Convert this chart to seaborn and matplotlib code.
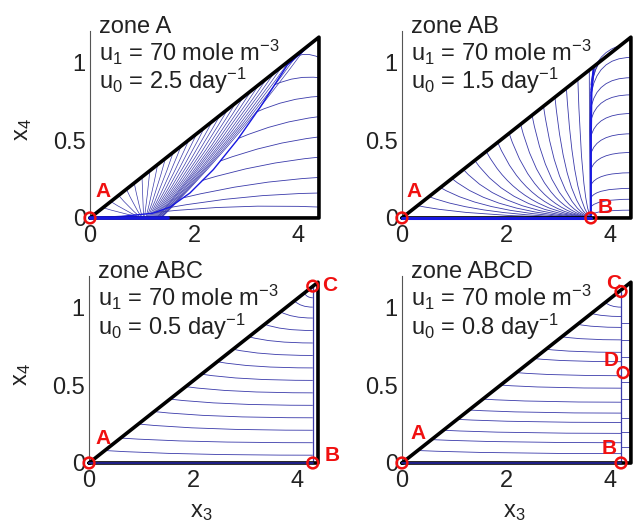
import matplotlib
matplotlib.use('Agg')
import matplotlib.pyplot as plt
from matplotlib.path import Path
from matplotlib.patches import PathPatch
import seaborn as sns

sns.set_style('white')
plt.rcParams['font.family'] = ['Liberation Sans', 'DejaVu Sans']
plt.rcParams['mathtext.fontset'] = 'custom'
plt.rcParams['mathtext.rm'] = 'Liberation Sans'
plt.rcParams['mathtext.it'] = 'Liberation Sans'
plt.rcParams['mathtext.default'] = 'regular'

# ---------------- data ----------------
zone_names = ['zone A', 'zone AB', 'zone ABC', 'zone ABCD']
u1_values = ['70', '70', '70', '70']
u0_values = ['2.5', '1.5', '0.5', '0.8']

x_ticks = [0, 2, 4]
x_tick_labels = ['0', '2', '4']
y_ticks = [0, 0.5, 1]
y_tick_labels = ['0', '0.5', '1']

# feasible-region boundary (x3, x4)
boundary_x = [0.0, 4.4, 4.4, 0.0]
boundary_y = [0.0, 1.16, 0.0, 0.0]

# equilibria per panel
eq_names = [['A'], ['A', 'B'], ['A', 'B', 'C'], ['A', 'B', 'C', 'D']]
eq_x = [[0.0], [0.0, 3.63], [0.0, 4.3, 4.3], [0.0, 4.21, 4.21, 4.25]]
eq_y = [[0.0], [0.0, 0.0], [0.0, 0.0, 1.135], [0.0, 0.0, 1.1, 0.58]]

# zone A trajectories
A_fan_start_x = [0.25, 0.4, 0.55, 0.7, 0.85, 1.0, 1.15, 1.3, 1.45, 1.6,
                 1.75, 1.9, 2.05, 2.2, 2.35, 2.5, 2.65, 2.8, 2.95, 3.1,
                 3.25, 3.4, 3.55, 3.7, 3.85, 4.0, 4.15]
A_fan_end_x = [0.9, 0.92, 0.95, 0.98, 1.0, 1.03, 1.05, 1.08, 1.1, 1.12,
               1.14, 1.16, 1.18, 1.2, 1.22, 1.24, 1.26, 1.28, 1.3, 1.31,
               1.32, 1.34, 1.35, 1.37, 1.38, 1.39, 1.4]
A_edge_y = [1.03, 0.90, 0.78, 0.65, 0.52, 0.39, 0.26, 0.16, 0.07]
A_join_x = [3.9, 3.55, 3.2, 2.85, 2.5, 2.15, 1.8, 1.5, 1.25]
A_join_y = [1.03, 0.855, 0.68, 0.51, 0.365, 0.24, 0.13, 0.065, 0.035]
A_env_x = [4.3, 3.79, 3.27, 2.83, 2.37, 1.92, 1.54, 1.2, 0.6, 0.0]
A_env_y = [1.13, 0.98, 0.71, 0.50, 0.31, 0.16, 0.07, 0.03, 0.01, 0.0]
A_bottom_x = [0.0, 1.5]

# zone AB trajectories
AB_fan_start_x = [0.3, 0.52, 0.74, 0.96, 1.18, 1.4, 1.62, 1.84, 2.06, 2.28,
                  2.5, 2.72, 2.94, 3.16, 3.38, 3.6]
AB_edge_y = [1.03, 0.90, 0.79, 0.67, 0.54, 0.42, 0.29, 0.19, 0.12, 0.05]
AB_join_y = [0.78, 0.70, 0.62, 0.52, 0.41, 0.31, 0.21, 0.13, 0.07, 0.02]
AB_top_start_x = [3.8, 4.0, 4.2]
AB_top_join_y = [0.8, 0.82, 0.85]
AB_vert_x = [3.63, 3.63, 3.64, 3.68]
AB_vert_y = [0.0, 0.55, 0.8, 0.95]

# zone ABC trajectories
ABC_start_y = [0.08, 0.16, 0.25, 0.33, 0.41, 0.49, 0.57, 0.65, 0.73, 0.81,
               0.89, 0.97, 1.04, 1.09]
ABC_end_y = [0.05, 0.13, 0.21, 0.29, 0.37, 0.45, 0.53, 0.61, 0.69, 0.77,
             0.85, 0.93, 1.0, 1.06]

# zone ABCD trajectories
ABCD_start_y = [0.08, 0.15, 0.21, 0.28, 0.34, 0.41, 0.50, 0.58, 0.67, 0.73,
                0.81, 0.89, 0.96, 1.03]
ABCD_end_y = [0.06, 0.13, 0.19, 0.26, 0.32, 0.39, 0.48, 0.56, 0.65, 0.71,
              0.79, 0.87, 0.94, 1.0]
ABCD_right_y = [0.1, 0.2, 0.29, 0.41, 0.52, 0.68, 0.79, 0.9]

# ---------------- styling ----------------
TRAJ = '#3a3aaa'
DENSE = '#1818e0'
RED = '#f01010'
FS = 17
SLOPE = boundary_y[1] / boundary_x[1]
XR = boundary_x[1]


def curve(ax, p0, p1, p2, color=TRAJ, lw=0.6):
    path = Path([p0, p1, p2], [Path.MOVETO, Path.CURVE3, Path.CURVE3])
    ax.add_patch(PathPatch(path, fill=False, edgecolor=color, lw=lw,
                           clip_on=False, zorder=2))


def seg(ax, xs, ys, color, lw, z=3):
    sns.lineplot(x=xs, y=ys, ax=ax, color=color, lw=lw, sort=False,
                 estimator=None, legend=False, zorder=z).lines[-1].set_clip_on(False)


fig = plt.figure(figsize=(6.36, 5.29), dpi=100)
positions = [[0.1415, 0.588, 0.360, 0.3535], [0.632, 0.588, 0.360, 0.3535],
             [0.140, 0.1248, 0.360, 0.3535], [0.632, 0.1248, 0.360, 0.3535]]
axes = [fig.add_axes(p) for p in positions]

for i, ax in enumerate(axes):
    ax.set_xlim(0, 4.4)
    ax.set_ylim(0, 1.2)
    for s in ['top', 'right']:
        ax.spines[s].set_visible(False)
    ax.spines['left'].set_color('#555555')
    ax.spines['left'].set_linewidth(0.8)
    ax.spines['bottom'].set_color('#555555')
    ax.spines['bottom'].set_linewidth(0.8)
    ax.set_xticks(x_ticks)
    ax.set_xticklabels(x_tick_labels)
    ax.set_yticks(y_ticks)
    ax.set_yticklabels(y_tick_labels)
    ax.tick_params(direction='in', length=3, width=0.6, color='#555555',
                   labelsize=FS, colors='#222222')
    ax.tick_params(axis='x', pad=5)
    ax.tick_params(axis='y', pad=3)
    for lab in ax.get_xticklabels() + ax.get_yticklabels():
        lab.set_color('#222222')

    # texts
    ax.text(0.18, 1.19, zone_names[i], fontsize=FS, color='#222222')
    ax.text(0.18, 1.005, 'u$_1$ = ' + u1_values[i] + ' mole m$^{-3}$',
            fontsize=FS, color='#222222')
    ax.text(0.18, 0.825, 'u$_0$ = ' + u0_values[i] + ' day$^{-1}$',
            fontsize=FS, color='#222222')
    if i % 2 == 0:
        ax.set_ylabel('x$_4$', fontsize=FS, color='#222222')
        ax.yaxis.set_label_coords(-0.245, 0.47)
    if i >= 2:
        ax.set_xlabel('x$_3$', fontsize=FS, color='#222222')
        ax.xaxis.set_label_coords(0.49, -0.205)

# ---- zone A ----
ax = axes[0]
for xd, xe in zip(A_fan_start_x, A_fan_end_x):
    S = (xd, SLOPE * xd)
    E = (xe, 0.01)
    C = (0.5 * (xd + xe), 0.85 * 0.5 * (S[1] + E[1]))
    curve(ax, S, C, E, lw=0.5)
for h, jx, jy in zip(A_edge_y, A_join_x, A_join_y):
    curve(ax, (XR, h), (0.5 * (XR + jx), 0.5 * (h + jy) + 0.04), (jx, jy))
seg(ax, A_env_x, A_env_y, DENSE, 1.0)
seg(ax, A_bottom_x, [0, 0], DENSE, 2.6, z=5)

# ---- zone AB ----
ax = axes[1]
Bx = eq_x[1][1]
for xd in AB_fan_start_x:
    S = (xd, SLOPE * xd)
    curve(ax, S, (xd + 0.3 * (Bx - xd), 0.12 * S[1]), (Bx, 0.0))
for h, jy in zip(AB_edge_y, AB_join_y):
    curve(ax, (XR, h), (Bx + 0.1, h), (Bx, jy))
for xd, jy in zip(AB_top_start_x, AB_top_join_y):
    curve(ax, (xd, SLOPE * xd), (Bx + 0.05, SLOPE * xd - 0.05), (Bx, jy))
seg(ax, AB_vert_x, AB_vert_y, DENSE, 1.6)
seg(ax, [0, Bx], [0, 0], DENSE, 2.2, z=5)

# ---- zone ABC / ABCD ----
for ax, sy, ey, k in [(axes[2], ABC_start_y, ABC_end_y, 2),
                      (axes[3], ABCD_start_y, ABCD_end_y, 3)]:
    Vx = eq_x[k][1]
    for ys, ye in zip(sy, ey):
        xs = ys / SLOPE
        curve(ax, (xs, ys), (xs + 0.35 * (Vx - xs), ye), (Vx, ye))
    seg(ax, [Vx, Vx], [0, eq_y[k][2]], TRAJ, 0.9)
    seg(ax, [0, Vx], [0, 0], '#20208a', 1.4, z=5)
for h in ABCD_right_y:
    seg(axes[3], [XR, eq_x[3][1]], [h, h], TRAJ, 0.6, z=2)

# ---- boundary + equilibria ----
label_offsets = {
    0: {'A': (0.25, 0.167)},
    1: {'A': (0.23, 0.167), 'B': (3.9, 0.064)},
    2: {'A': (0.27, 0.16), 'B': (4.67, 0.05), 'C': (4.62, 1.14)},
    3: {'A': (0.31, 0.19), 'B': (3.98, 0.096), 'C': (4.06, 1.15), 'D': (4.02, 0.66)},
}
for i, ax in enumerate(axes):
    seg(ax, boundary_x, boundary_y, 'black', 2.6, z=4)
    sc = sns.scatterplot(x=eq_x[i], y=eq_y[i], ax=ax, s=60, marker='o',
                         facecolor='none', edgecolor=RED, linewidth=1.8,
                         zorder=6, legend=False)
    sc.collections[-1].set_clip_on(False)
    for name in eq_names[i]:
        lx, ly = label_offsets[i][name]
        ax.text(lx, ly, name, color=RED, fontsize=15, fontweight='bold',
                ha='center', va='center', zorder=7)

fig.savefig('out.png', dpi=100)
